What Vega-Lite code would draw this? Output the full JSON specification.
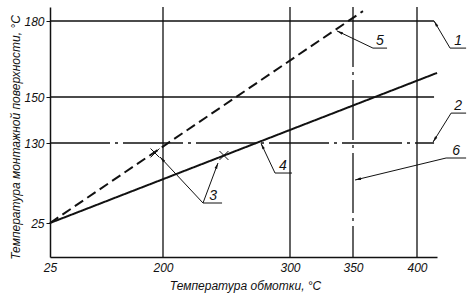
{
  "$schema": "https://vega.github.io/schema/vega-lite/v6.json",
  "autosize": "none",
  "width": 387,
  "height": 250,
  "padding": {"left": 50, "top": 7, "right": 32, "bottom": 39},
  "background": "white",
  "config": {
    "view": {"stroke": null},
    "font": "Liberation Sans",
    "axis": {"labelFont": "Liberation Sans", "titleFont": "Liberation Sans", "labelFontStyle": "italic", "titleFontStyle": "italic", "labelColor": "#111", "titleColor": "#111", "labelFontSize": 12, "titleFontSize": 12, "titleFontWeight": "normal", "domainColor": "#111", "domainWidth": 1.5, "tickColor": "#111", "grid": false}
  },
  "resolve": {"scale": {"strokeDash": "independent"}},
  "datasets": {
    "vrules": [
      {"x": 200, "kind": "main"}, {"x": 300, "kind": "main"}, {"x": 400, "kind": "main"}, {"x": 350, "kind": "axial"}
    ],
    "hrules": [
      {"y": 180, "x": 25, "x2": 413.3, "kind": "main"},
      {"y": 150, "x": 25, "x2": 413.3, "kind": "main"},
      {"y": 130, "x": 25, "x2": 413.3, "kind": "axial"}
    ],
    "curves": [
      {"curve": "solid", "x": 25, "y": 25}, {"curve": "solid", "x": 415.6, "y": 159.5},
      {"curve": "dashed", "x": 25, "y": 25}, {"curve": "dashed", "x": 357.8, "y": 183.9}
    ],
    "leaders": [
      {"id": "1", "o": 1, "x": 413.3, "y": 180}, {"id": "1", "o": 2, "x": 425.8, "y": 169.3}, {"id": "1", "o": 3, "x": 438.3, "y": 169.3},
      {"id": "2", "o": 1, "x": 412.5, "y": 130.4}, {"id": "2", "o": 2, "x": 426.6, "y": 143.0}, {"id": "2", "o": 3, "x": 438.3, "y": 143.0},
      {"id": "5", "o": 1, "x": 337.3, "y": 176.1}, {"id": "5", "o": 2, "x": 365.6, "y": 169.3}, {"id": "5", "o": 3, "x": 376.6, "y": 169.3},
      {"id": "6", "o": 1, "x": 351.6, "y": 81.4}, {"id": "6", "o": 2, "x": 422.7, "y": 110.3}, {"id": "6", "o": 3, "x": 438.3, "y": 110.3},
      {"id": "3a", "o": 1, "x": 195.4, "y": 111.6}, {"id": "3a", "o": 2, "x": 231.5, "y": 51.25}, {"id": "3a", "o": 3, "x": 246.5, "y": 51.25},
      {"id": "3b", "o": 1, "x": 243.3, "y": 103.75}, {"id": "3b", "o": 2, "x": 231.5, "y": 51.25},
      {"id": "4", "o": 1, "x": 277.2, "y": 129.5}, {"id": "4", "o": 2, "x": 288.2, "y": 90.6}, {"id": "4", "o": 3, "x": 301.6, "y": 90.6}
    ],
    "arrows": [
      {"x": 413.3, "y": 180, "dir": 329}, {"x": 412.5, "y": 130.4, "dir": 212}, {"x": 337.3, "y": 176.1, "dir": 295},
      {"x": 351.6, "y": 81.4, "dir": 256}, {"x": 195.4, "y": 111.6, "dir": 317}, {"x": 243.3, "y": 103.75, "dir": 21},
      {"x": 277.2, "y": 129.5, "dir": 334}
    ],
    "labels": [
      {"label": "1", "x": 432, "y": 172.1}, {"label": "2", "x": 432, "y": 146.1}, {"label": "5", "x": 371.1, "y": 172.1},
      {"label": "6", "x": 430.5, "y": 119.5}, {"label": "3", "x": 239.4, "y": 60.4}, {"label": "4", "x": 294.4, "y": 99.8}
    ],
    "crosses": [{"x": 187.6, "y": 116.9}, {"x": 248, "y": 113.6}]
  },
  "layer": [
    {
      "data": {"name": "vrules"},
      "mark": {"type": "rule", "color": "#111", "strokeWidth": 1.3},
      "encoding": {
        "x": {"field": "x", "type": "quantitative",
          "scale": {"type": "linear", "domain": [25, 200, 300, 350, 400, 415.6], "range": [0, 113, 240, 303, 367, 387], "nice": false, "zero": false},
          "axis": {"values": [25, 200, 300, 350, 400], "title": "Температура обмотки, °С", "ticks": false, "labelPadding": 5, "titleX": 195, "titleY": 28, "titleBaseline": "middle", "titleAnchor": "start", "titleAlign": "center", "labelFlush": false}},
        "strokeDash": {"field": "kind", "type": "nominal", "scale": {"domain": ["main", "axial"], "range": [[1, 0], [60, 5, 3, 5]]}, "legend": null}
      }
    },
    {
      "data": {"name": "hrules"},
      "mark": {"type": "rule", "color": "#111", "strokeWidth": 1.3},
      "encoding": {
        "y": {"field": "y", "type": "quantitative",
          "scale": {"type": "linear", "domain": [-19.6, 25, 130, 150, 180, 185.5], "range": [250, 216, 136, 90, 14, 0], "nice": false, "zero": false},
          "axis": {"values": [25, 130, 150, 180], "title": "Температура монтажной поверхности, °С", "tickSize": 4, "labelPadding": 2, "titleX": -35, "titleY": 130, "titleBaseline": "middle", "titleAnchor": "start", "titleAlign": "center", "labelFlush": false}},
        "x": {"field": "x", "type": "quantitative"},
        "x2": {"field": "x2"},
        "strokeDash": {"field": "kind", "type": "nominal", "scale": {"domain": ["main", "axial"], "range": [[1, 0], [60, 5, 3, 5]]}, "legend": null}
      }
    },
    {
      "data": {"name": "curves"},
      "mark": {"type": "line", "color": "#111", "strokeWidth": 2},
      "encoding": {
        "x": {"field": "x", "type": "quantitative"},
        "y": {"field": "y", "type": "quantitative"},
        "detail": {"field": "curve"},
        "strokeDash": {"field": "curve", "type": "nominal", "scale": {"domain": ["solid", "dashed"], "range": [[1, 0], [10, 5]]}, "legend": null}
      }
    },
    {
      "data": {"name": "leaders"},
      "mark": {"type": "line", "color": "#111", "strokeWidth": 1},
      "encoding": {
        "x": {"field": "x", "type": "quantitative"},
        "y": {"field": "y", "type": "quantitative"},
        "detail": {"field": "id"},
        "order": {"field": "o"}
      }
    },
    {
      "data": {"name": "arrows"},
      "mark": {"type": "point", "shape": "M0,0L0.45,2L-0.45,2Z", "filled": true, "color": "#111", "size": 36, "opacity": 1},
      "encoding": {
        "x": {"field": "x", "type": "quantitative"},
        "y": {"field": "y", "type": "quantitative"},
        "angle": {"field": "dir", "type": "quantitative", "scale": null}
      }
    },
    {
      "data": {"name": "crosses"},
      "mark": {"type": "point", "shape": "M-1,-1L1,1M-1,1L1,-1", "filled": false, "color": "#111", "size": 80, "strokeWidth": 1, "opacity": 1},
      "encoding": {
        "x": {"field": "x", "type": "quantitative"},
        "y": {"field": "y", "type": "quantitative"}
      }
    },
    {
      "data": {"name": "labels"},
      "mark": {"type": "text", "font": "Liberation Sans", "fontStyle": "italic", "fontSize": 14, "color": "#111", "baseline": "middle", "align": "center"},
      "encoding": {
        "x": {"field": "x", "type": "quantitative"},
        "y": {"field": "y", "type": "quantitative"},
        "text": {"field": "label"}
      }
    }
  ]
}
